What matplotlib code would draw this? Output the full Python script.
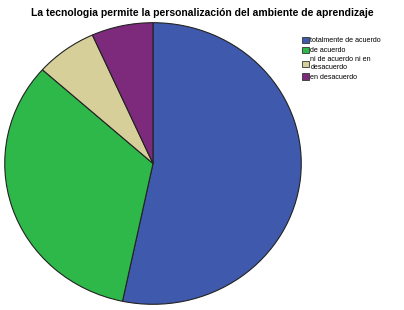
import matplotlib
matplotlib.use("Agg")
import matplotlib.pyplot as plt
from matplotlib.patches import Patch

# data (percent of answers)
categories = ["totalmente de acuerdo", "de acuerdo",
              "ni de acuerdo ni en\ndesacuerdo", "en desacuerdo"]
values = [53.3, 33.3, 6.7, 6.7]
colors = ["#3F5AAD", "#2FB84A", "#D6CF9A", "#7D2A7D"]

plt.rcParams["font.family"] = ["Liberation Sans", "DejaVu Sans"]

fig = plt.figure(figsize=(4.04, 3.10), dpi=100)
fig.patch.set_facecolor("white")

ax = fig.add_axes([4 / 404, 5 / 310, 298 / 404, 283 / 310])
ax.pie(values, colors=colors, startangle=90, counterclock=False,
       radius=1.0, wedgeprops=dict(edgecolor="#222222", linewidth=0.8))
ax.set_aspect("auto")
ax.set_xlim(-1.005, 1.005)
ax.set_ylim(-1.005, 1.005)
ax.axis("off")

fig.text(202 / 404, 1 - 13 / 310,
         "La tecnologia permite la personalización del ambiente de aprendizaje",
         ha="center", va="center", fontsize=7.5, fontweight="bold")

handles = [Patch(facecolor=c, edgecolor="#333333", linewidth=0.6) for c in colors]
fig.legend(handles, categories, loc="upper left",
           bbox_to_anchor=(299 / 404, 1 - 34 / 310),
           frameon=False, fontsize=5.1, handlelength=1.0, handleheight=1.0,
           handletextpad=0.2, labelspacing=0.3, borderaxespad=0.0)

fig.savefig("out.png", dpi=100)
